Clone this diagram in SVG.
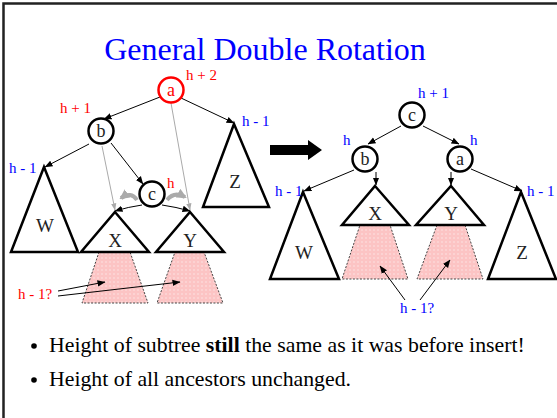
<svg xmlns="http://www.w3.org/2000/svg" width="557" height="418" viewBox="0 0 557 418">
<defs>
<marker id="ah" markerUnits="userSpaceOnUse" markerWidth="8" markerHeight="8" viewBox="0 0 8 8" refX="7.5" refY="4" orient="auto"><path d="M0,0.8 L8,4 L0,7.2 z" fill="#000"/></marker>
<marker id="ag" markerUnits="userSpaceOnUse" markerWidth="7" markerHeight="7" viewBox="0 0 8 8" refX="7.5" refY="4" orient="auto"><path d="M0,1 L8,4 L0,7 z" fill="#aaa"/></marker>
<marker id="agb" markerUnits="userSpaceOnUse" markerWidth="10" markerHeight="10" viewBox="0 0 10 10" refX="8" refY="5" orient="auto"><path d="M0,0 L10,5 L0,10 z" fill="#aaa"/></marker>
<pattern id="dots" width="4" height="4" patternUnits="userSpaceOnUse"><rect width="4" height="4" fill="#fcc4c4"/><circle cx="2" cy="2" r="0.8" fill="#fde4e4"/></pattern>
</defs>
<style>
text{font-family:"Liberation Serif","Times New Roman",serif}
.node circle{fill:#fff;stroke:#000;stroke-width:2.5}
.node text{font-size:18px;text-anchor:middle;fill:#222}
.tri polygon{fill:#fff;stroke:#000;stroke-width:2.5;stroke-linejoin:miter}
.tri text{font-size:19px;text-anchor:middle;fill:#222}
.pink{fill:url(#dots);stroke:#444;stroke-width:1;stroke-dasharray:2,1.5}
.lr{font-size:15px;fill:#ff0000}
.lb{font-size:15px;fill:#0000ff}
.edge{stroke:#000;stroke-width:1;fill:none;marker-end:url(#ah)}
.gedge{stroke:#aaa;stroke-width:1;fill:none;marker-end:url(#ag)}
.bullet{font-size:21.8px;fill:#000}
</style>
<rect width="557" height="418" fill="#fff"/>
<path d="M3.5 418 V3.5 H557" fill="none" stroke="#222" stroke-width="2.5"/>
<text x="265" y="60" font-size="32" fill="#0000ff" text-anchor="middle">General Double Rotation</text>

<!-- pink subtrees -->
<g id="pinkL1"><polygon class="pink" points="99,252 130,252 148,303 82,303"/></g>
<g id="pinkL2"><polygon class="pink" points="175,252 204,252 223,303 157,303"/></g>
<g id="pinkR1"><polygon class="pink" points="360,225 390,225 408,279 342,279"/></g>
<g id="pinkR2"><polygon class="pink" points="437,225 465,225 483,279 417,279"/></g>

<!-- connectors -->
<g id="connectors">
<line class="gedge" x1="102" y1="146" x2="115" y2="210"/>
<line class="gedge" x1="171" y1="103" x2="190" y2="210"/>
<line class="edge" x1="160" y1="97" x2="104" y2="119"/>
<line class="edge" x1="181" y1="98" x2="234" y2="123"/>
<line class="edge" x1="89" y1="144" x2="45" y2="167"/>
<line class="edge" x1="111" y1="143" x2="143" y2="184"/>
<path class="edge" d="M142 205 Q128 207 115 211"/>
<path class="edge" d="M162 205 Q176 207 190 211"/>
<path d="M137 200 Q131 191 121 198" fill="none" stroke="#aaa" stroke-width="4" marker-end="url(#agb)"/>
<path d="M167 200 Q174 191 185 197" fill="none" stroke="#aaa" stroke-width="4" marker-end="url(#agb)"/>
<line class="edge" x1="58" y1="291" x2="105" y2="282"/>
<line class="edge" x1="58" y1="296" x2="180" y2="282"/>
<polygon points="270,145 308,145 308,140 322,150 308,160 308,155 270,155" fill="#000"/>
<line class="edge" x1="401" y1="126" x2="368" y2="144"/>
<line class="edge" x1="423" y1="126" x2="459" y2="144"/>
<line class="edge" x1="354" y1="170" x2="304" y2="191"/>
<line class="edge" x1="376" y1="172" x2="376" y2="185"/>
<line class="edge" x1="451" y1="172" x2="451" y2="185"/>
<line class="edge" x1="471" y1="169" x2="522" y2="191"/>
<line class="edge" x1="405" y1="300" x2="380" y2="266"/>
<line class="edge" x1="420" y1="300" x2="450" y2="260"/>
</g>

<!-- left tree -->
<g id="nodeA1" class="node"><circle cx="171" cy="90" r="12.5" style="stroke:#ff0000"/><text x="171" y="96" style="fill:#ff0000">a</text></g>
<g id="nodeB1" class="node"><circle cx="101" cy="131" r="12.5"/><text x="101" y="137">b</text></g>
<g id="nodeC1" class="node"><circle cx="152" cy="194" r="12.5"/><text x="152" y="200">c</text></g>
<g id="triZ1" class="tri"><polygon points="234,124 269,207 203,207"/><text x="235" y="188">Z</text></g>
<g id="triW1" class="tri"><polygon points="44,167 78,252 11,252"/><text x="45" y="232">W</text></g>
<g id="triX1" class="tri"><polygon points="115,212 149,252 81,252"/><text x="115" y="247">X</text></g>
<g id="triY1" class="tri"><polygon points="190,212 224,252 156,252"/><text x="190" y="247">Y</text></g>
<text class="lr" x="186" y="80">h + 2</text>
<text class="lr" x="60" y="113">h + 1</text>
<text class="lr" x="167" y="188">h</text>
<text class="lb" x="242" y="126">h - 1</text>
<text class="lb" x="9" y="173">h - 1</text>
<text class="lr" x="18" y="299">h - 1?</text>

<!-- right tree -->
<g id="nodeC2" class="node"><circle cx="412" cy="115" r="12.5"/><text x="412" y="121">c</text></g>
<g id="nodeB2" class="node"><circle cx="365" cy="159" r="12.5"/><text x="365" y="165">b</text></g>
<g id="nodeA2" class="node"><circle cx="460" cy="159" r="12.5"/><text x="460" y="165">a</text></g>
<g id="triW2" class="tri"><polygon points="303,192 339,279 270,279"/><text x="304" y="259">W</text></g>
<g id="triX2" class="tri"><polygon points="375,186 409,225 342,225"/><text x="375" y="220">X</text></g>
<g id="triY2" class="tri"><polygon points="451,186 484,225 416,225"/><text x="451" y="220">Y</text></g>
<g id="triZ2" class="tri"><polygon points="521,192 556,279 488,279"/><text x="522" y="259">Z</text></g>
<text class="lb" x="418" y="98">h + 1</text>
<text class="lb" x="343" y="145">h</text>
<text class="lb" x="470" y="145">h</text>
<text class="lb" x="275" y="196">h - 1</text>
<text class="lb" x="527" y="196">h - 1</text>
<text class="lb" x="400" y="313">h - 1?</text>

<!-- bullets -->
<circle cx="34" cy="346" r="2.8" fill="#000"/>
<text class="bullet" x="49" y="352">Height of subtree <tspan font-weight="bold">still</tspan> the same as it was before insert!</text>
<circle cx="34" cy="380" r="2.8" fill="#000"/>
<text class="bullet" x="49" y="386">Height of all ancestors unchanged.</text>
</svg>
